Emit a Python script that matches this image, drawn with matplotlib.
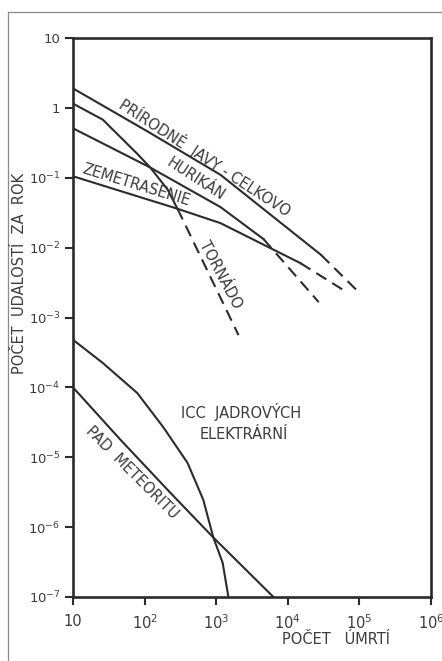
import matplotlib.pyplot as plt
from matplotlib.lines import Line2D

# hodnoty odčítané z obrázku (počet úmrtí, počet udalostí za rok)
prirodne_x = [10, 110, 1150, 29000]
prirodne_y = [1.9, 0.46, 0.11, 7.9e-3]
prirodne_dash_x = [29000, 98000]
prirodne_dash_y = [7.9e-3, 2.3e-3]

hurikan_x = [10, 120, 1150, 4600]
hurikan_y = [0.51, 0.14, 0.038, 0.0132]
hurikan_dash_x = [4600, 27000]
hurikan_dash_y = [0.0132, 1.66e-3]

zemetrasenie_x = [10, 288, 1150, 15000]
zemetrasenie_y = [0.105, 0.036, 0.0224, 6.0e-3]
zemetrasenie_dash_x = [15000, 65000]
zemetrasenie_dash_y = [6.0e-3, 2.34e-3]

tornado_x = [10, 26, 79, 120, 209, 288]
tornado_y = [1.15, 0.68, 0.22, 0.14, 0.068, 0.036]
tornado_dash_x = [288, 2050]
tornado_dash_y = [0.036, 5.6e-4]

icc_x = [10, 26, 79, 182, 398, 661, 912, 1230, 1480]
icc_y = [4.8e-4, 2.24e-4, 8.3e-5, 2.7e-5, 8.3e-6, 2.45e-6, 7.1e-7, 3.1e-7, 1e-7]

meteorit_x = [10, 46, 229, 912, 6300]
meteorit_y = [1e-4, 1.78e-5, 3.1e-6, 7.1e-7, 1e-7]

x_ticks = [10, 1e2, 1e3, 1e4, 1e5, 1e6]
x_labels = ['10', '$10^2$', '$10^3$', '$10^4$', '$10^5$', '$10^6$']
y_ticks = [10, 1, 1e-1, 1e-2, 1e-3, 1e-4, 1e-5, 1e-6, 1e-7]
y_labels = ['10', '1', '$10^{-1}$', '$10^{-2}$', '$10^{-3}$', '$10^{-4}$',
            '$10^{-5}$', '$10^{-6}$', '$10^{-7}$']

plt.rcParams['font.family'] = ['DejaVu Sans']
plt.rcParams['mathtext.fontset'] = 'dejavusans'
plt.rcParams['lines.scale_dashes'] = False

ink = '#2b2b2b'
text_ink = '#3c3c3c'

fig = plt.figure(figsize=(4.42, 6.61), dpi=100)
ax = fig.add_axes([73 / 442, 1 - 597 / 661, (431 - 73) / 442, (597 - 38) / 661])

# okraj naskenovanej stránky
fig.add_artist(Line2D([0.018, 0.018], [0.0, 0.982], color='#8a8a8a', lw=0.9))
fig.add_artist(Line2D([0.018, 1.0], [0.982, 0.982], color='#8a8a8a', lw=0.9))

lw = 1.5
dash = (0, (8.5, 5))

ax.plot(prirodne_x, prirodne_y, color=ink, lw=lw)
ax.plot(prirodne_dash_x, prirodne_dash_y, color=ink, lw=lw, linestyle=dash)
ax.plot(hurikan_x, hurikan_y, color=ink, lw=lw)
ax.plot(hurikan_dash_x, hurikan_dash_y, color=ink, lw=lw, linestyle=dash)
ax.plot(zemetrasenie_x, zemetrasenie_y, color=ink, lw=lw)
ax.plot(zemetrasenie_dash_x, zemetrasenie_dash_y, color=ink, lw=lw, linestyle=dash)
ax.plot(tornado_x, tornado_y, color=ink, lw=lw)
ax.plot(tornado_dash_x, tornado_dash_y, color=ink, lw=lw, linestyle=dash)
ax.plot(icc_x, icc_y, color=ink, lw=lw)
ax.plot(meteorit_x, meteorit_y, color=ink, lw=lw)

ax.set_xscale('log')
ax.set_yscale('log')
ax.set_xlim(10, 1e6)
ax.set_ylim(1e-7, 10)

ax.set_xticks(x_ticks)
ax.set_xticklabels(x_labels)
ax.set_yticks(y_ticks)
ax.set_yticklabels(y_labels)
ax.minorticks_off()
ax.tick_params(axis='both', direction='out', length=6, width=1.5, color=ink,
               labelcolor=text_ink)
ax.tick_params(axis='x', pad=6, labelsize=10.5)
ax.tick_params(axis='y', pad=3, labelsize=9.5)

for s in ax.spines.values():
    s.set_linewidth(1.9)
    s.set_color(ink)

# popisky kriviek
tkw = dict(color=text_ink, fontsize=10.5, ha='center', va='center',
           rotation_mode='anchor')
ax.text(700, 0.2, 'PRÍRODNÉ  JAVY - CELKOVO', rotation=-33, **tkw)
ax.text(520, 0.094, 'HURIKÁN', rotation=-33, **tkw)
ax.text(76, 0.079, 'ZEMETRASENIE', rotation=-17, **tkw)
ax.text(1150, 4.1e-3, 'TORNÁDO', rotation=-62, **tkw)
ax.text(2200, 4.5e-5, 'ICC  JADROVÝCH', rotation=0, **tkw)
ax.text(2400, 2.1e-5, 'ELEKTRÁRNÍ', rotation=0, **tkw)
ax.text(66, 6.0e-6, 'PAD  METEORITU', rotation=-45, **tkw)

fig.text(20 / 442, 1 - 273 / 661, 'POČET  UDALOSTÍ  ZA  ROK', rotation=90,
         ha='center', va='center', fontsize=10.5, color=text_ink)
fig.text(336 / 442, 1 - 640 / 661, 'POČET   ÚMRTÍ', ha='center', va='center',
         fontsize=10.5, color=text_ink)

fig.savefig('out.png', dpi=100, facecolor='white')
